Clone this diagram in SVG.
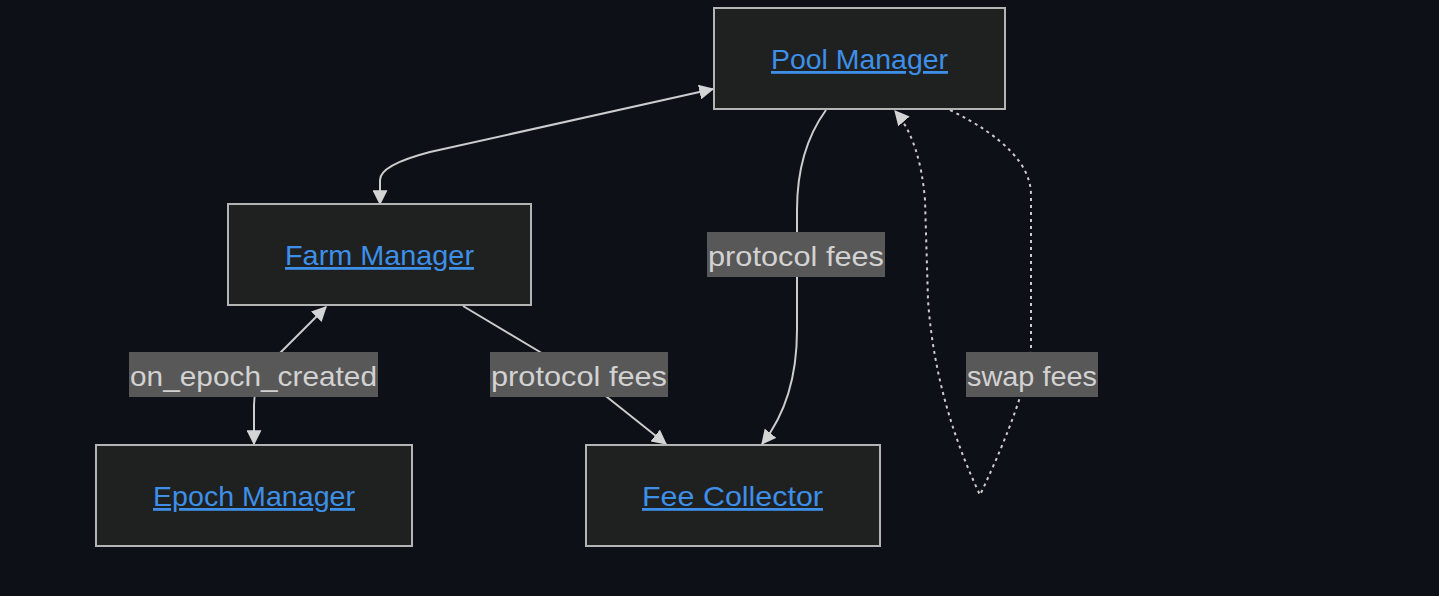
<svg xmlns="http://www.w3.org/2000/svg" width="1439" height="596" viewBox="0 0 1439 596">
<style>
.node rect{fill:#1f2020;stroke:#b4b4b4;stroke-width:2}
.node text{font-family:"Liberation Sans","DejaVu Sans",sans-serif;font-size:28px;fill:#3d8fe8;text-anchor:middle;text-decoration:underline}
.edge{fill:none;stroke:#cccccc;stroke-width:2}
.dot{stroke-dasharray:3 4}
.lbl rect{fill:#585858}
.lbl text{font-family:"Liberation Sans","DejaVu Sans",sans-serif;font-size:28px;fill:#d2d2d2;text-anchor:middle}
</style>
<defs>
<marker id="ah" viewBox="0 0 12 12" refX="11" refY="6" markerWidth="15" markerHeight="15" markerUnits="userSpaceOnUse" orient="auto-start-reverse">
<path d="M0,0 L12,6 L0,12 Z" fill="#d4d4d4"/>
</marker>
</defs>
<rect width="1439" height="596" fill="#0d1017"/>
<g id="connectors">
<path class="edge" d="M713,89 L430,152 Q380,165 380,180 L380,204" marker-start="url(#ah)" marker-end="url(#ah)"/>
<path class="edge" d="M326,307 L275,358 Q254,378 254,405 L254,444" marker-start="url(#ah)" marker-end="url(#ah)"/>
<path class="edge" d="M463,306 L540,352 L607,397 L666,444" marker-end="url(#ah)"/>
<path class="edge" d="M826,110 Q797,150 797,210 L797,330 Q797,400 762,444" marker-end="url(#ah)"/>
<path class="edge dot" d="M950,110 Q1031,150 1031,195 L1031,350 Q1025,400 980,495 Q935,400 928,300 L925,200 Q920,140 895,111" marker-end="url(#ah)"/>
</g>
<g id="labels">
<g class="lbl" id="lbl-epoch"><rect x="129" y="352" width="249" height="45"/><text x="253.5" y="386" textLength="247" lengthAdjust="spacingAndGlyphs">on_epoch_created</text></g>
<g class="lbl" id="lbl-fees1"><rect x="490" y="352" width="178" height="45"/><text x="579" y="386" textLength="176" lengthAdjust="spacingAndGlyphs">protocol fees</text></g>
<g class="lbl" id="lbl-fees2"><rect x="707" y="232" width="178" height="45"/><text x="796" y="266" textLength="176" lengthAdjust="spacingAndGlyphs">protocol fees</text></g>
<g class="lbl" id="lbl-swap"><rect x="966" y="352" width="132" height="45"/><text x="1032" y="386" textLength="130" lengthAdjust="spacingAndGlyphs">swap fees</text></g>
</g>
<g class="node" id="pool-manager"><rect x="714" y="8" width="291" height="101"/><text x="859.5" y="69" textLength="177" lengthAdjust="spacingAndGlyphs">Pool Manager</text></g>
<g class="node" id="farm-manager"><rect x="228" y="204" width="303" height="101"/><text x="379.5" y="265" textLength="189" lengthAdjust="spacingAndGlyphs">Farm Manager</text></g>
<g class="node" id="epoch-manager"><rect x="96" y="445" width="316" height="101"/><text x="254" y="506" textLength="202" lengthAdjust="spacingAndGlyphs">Epoch Manager</text></g>
<g class="node" id="fee-collector"><rect x="586" y="445" width="294" height="101"/><text x="732.5" y="506" textLength="181" lengthAdjust="spacingAndGlyphs">Fee Collector</text></g>
</svg>
